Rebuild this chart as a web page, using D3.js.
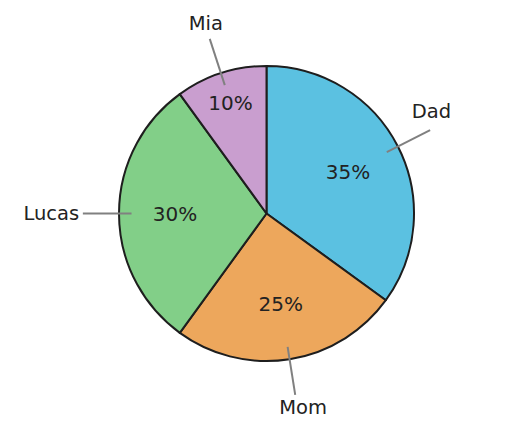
<!DOCTYPE html>
<html>
<head>
<meta charset="utf-8">
<script src="https://cdn.jsdelivr.net/npm/d3@7"></script>
<style>
    body { margin: 0; background: #fff; }
    text { font-family: "DejaVu Sans", sans-serif; fill: #222; }
</style>
</head>
<body>
<div id="chart"></div>
<script>
var names = ["Dad", "Mom", "Lucas", "Mia"];
var shares = [35, 25, 30, 10];
var colors = ["#5bc1e1", "#eda75c", "#82cf88", "#c99ecf"];

var width = 532,
    height = 439;

var cx = 266.5,
    cy = 213.5,
    radius = 147.5;

var svg = d3.select('#chart').append('svg')
    .attr('width', width)
    .attr('height', height);

var g = svg.append('g')
    .attr('transform', 'translate(' + cx + ',' + cy + ')');

var data = names.map(function (n, i) {
    return { name: n, value: shares[i], color: colors[i] };
});

var pie = d3.pie()
    .sort(null)
    .value(function (d) { return d.value; });

var arc = d3.arc()
    .innerRadius(0)
    .outerRadius(radius);

var arcs = pie(data);
var total = d3.sum(shares);

// point on a ray from the centre, angle measured clockwise from the top
var polar = function (a, r) {
    return [Math.sin(a) * r, -Math.cos(a) * r];
}

g.selectAll('path.slice')
    .data(arcs)
    .enter().append('path')
    .attr('class', 'slice')
    .attr('d', arc)
    .attr('fill', function (d) { return d.data.color; })
    .attr('stroke', '#1e1e1e')
    .attr('stroke-width', 2)
    .attr('stroke-linejoin', 'round');

// leader lines
g.selectAll('line.leader')
    .data(arcs)
    .enter().append('line')
    .attr('class', 'leader')
    .each(function (d) {
        var a = (d.startAngle + d.endAngle) / 2,
            p0 = polar(a, radius * 0.915),
            p1 = polar(a, radius * 1.245);
        d3.select(this)
            .attr('x1', p0[0]).attr('y1', p0[1])
            .attr('x2', p1[0]).attr('y2', p1[1]);
    })
    .attr('stroke', '#808080')
    .attr('stroke-width', 2);

// outside name labels
g.selectAll('text.name')
    .data(arcs)
    .enter().append('text')
    .attr('class', 'name')
    .style('font-size', '19.5px')
    .attr('dy', '0.35em')
    .each(function (d) {
        var a = (d.startAngle + d.endAngle) / 2,
            s = Math.sin(a),
            c = Math.cos(a),
            sel = d3.select(this),
            p;
        if (Math.abs(s) > 0.95) {
            // side labels hang off the end of the leader line
            p = polar(a, radius * 1.27);
            sel.attr('text-anchor', s < 0 ? 'end' : 'start');
        } else {
            p = polar(a, radius * 1.33);
            sel.attr('text-anchor', 'middle');
            if (c > 0) p[1] -= 3.5;
            if (Math.abs(s) > 0.5) {
                p[0] -= s * 11;
                p[1] -= 10;
            } else if (c < 0) {
                p[0] += 6;
            }
        }
        sel.attr('x', p[0]).attr('y', p[1]);
    })
    .text(function (d) { return d.data.name; });

// percentages inside
g.selectAll('text.pct')
    .data(arcs)
    .enter().append('text')
    .attr('class', 'pct')
    .style('font-size', '20px')
    .attr('text-anchor', 'middle')
    .attr('dy', '0.35em')
    .each(function (d) {
        var a = (d.startAngle + d.endAngle) / 2,
            r = d.data.value / total < 0.15 ? radius * 0.79 : radius * 0.62,
            p = polar(a, r);
        d3.select(this).attr('x', p[0]).attr('y', p[1]);
    })
    .text(function (d) { return d.data.value + '%'; });
</script>
</body>
</html>
